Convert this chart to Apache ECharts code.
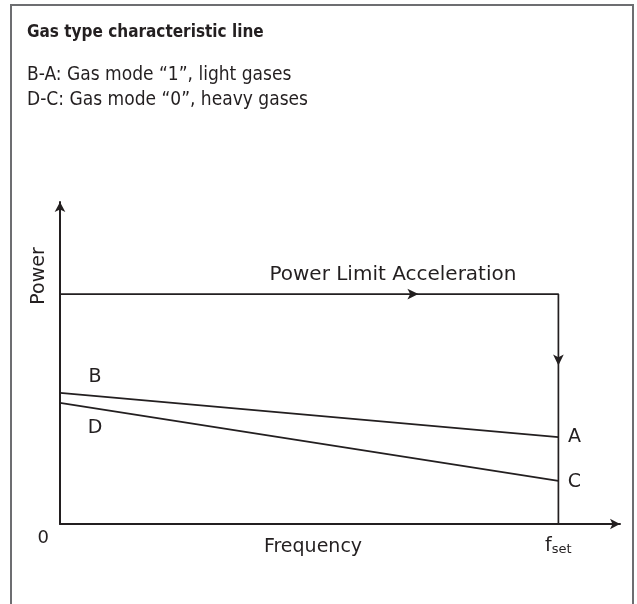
<!DOCTYPE html>
<html>
<head>
<meta charset="UTF-8">
<title>Gas type characteristic line</title>
<script src="https://cdn.jsdelivr.net/npm/echarts@6.0.0/dist/echarts.min.js"></script>
<style>
  html, body { margin: 0; padding: 0; background: #fff; }
  #chart { width: 637px; height: 604px; }
</style>
</head>
<body>
<div id="chart"></div>
<script>
// data (axes run 0..100, arbitrary units)
const fSet = 89;
const powerLimit = 71.4;
const lineBA = [[0, 40.7], [fSet, 27.0]];       // light gases
const lineDC = [[0, 37.6], [fSet, 13.4]];       // heavy gases
const limitPath = [[0, powerLimit], [fSet, powerLimit], [fSet, 0]];
const arrowRight = [[64, powerLimit]];
const arrowDown = [[fSet, 49.2]];

const ink = '#231f20';
const narrow = "'DejaVu Sans Condensed', 'Liberation Sans Narrow', sans-serif";
const sans = "'DejaVu Sans', sans-serif";

const chart = echarts.init(document.getElementById('chart'));
chart.setOption({
  animation: false,
  grid: { left: 60, right: 17, top: 202, bottom: 80 },
  xAxis: {
    type: 'value', min: 0, max: 100,
    splitLine: { show: false },
    axisTick: { show: false },
    axisLine: { show: true, symbol: ['none', 'arrow'], symbolSize: [8, 10], lineStyle: { color: ink, width: 2 } },
    axisLabel: {
      customValues: [fSet], margin: 12,
      formatter: () => 'f{s|set}',
      color: ink, fontFamily: sans, fontSize: 19,
      rich: { s: { fontSize: 13, fontFamily: sans, color: ink, verticalAlign: 'bottom', padding: [7, 0, 0, 0] } }
    }
  },
  yAxis: {
    type: 'value', min: 0, max: 100,
    splitLine: { show: false },
    axisTick: { show: false },
    axisLine: { show: true, symbol: ['none', 'arrow'], symbolSize: [8, 10], lineStyle: { color: ink, width: 2 } },
    axisLabel: {
      customValues: [0], margin: 11, verticalAlign: 'top', padding: [5, 0, 0, 0],
      color: ink, fontFamily: sans, fontSize: 18
    }
  },
  series: [
    {
      type: 'line', data: limitPath, symbol: 'none',
      lineStyle: { color: ink, width: 1.7 }
    },
    {
      type: 'line', data: lineBA, symbol: 'none',
      lineStyle: { color: ink, width: 1.7 }
    },
    {
      type: 'line', data: lineDC, symbol: 'none',
      lineStyle: { color: ink, width: 1.7 }
    },
    {
      type: 'scatter', symbol: 'arrow', symbolRotate: -90, symbolSize: [8, 11],
      itemStyle: { color: ink, opacity: 1 },
      data: arrowRight,
      label: {
        show: true, position: 'inside', offset: [-20, -19],
        formatter: 'Power Limit Acceleration',
        color: ink, fontFamily: sans, fontSize: 20
      }
    },
    {
      type: 'scatter', symbol: 'arrow', symbolRotate: 180, symbolSize: [8, 11],
      itemStyle: { color: ink, opacity: 1 },
      data: arrowDown
    },
    {
      type: 'scatter', symbolSize: 0, silent: true,
      itemStyle: { opacity: 1 },
      data: [
        { value: lineBA[0], label: { formatter: 'B', offset: [35, -16] } },
        { value: lineBA[1], label: { formatter: 'A', offset: [16, 0] } },
        { value: lineDC[0], label: { formatter: 'D', offset: [35, 25] } },
        { value: lineDC[1], label: { formatter: 'C', offset: [16, 1] } }
      ],
      label: { show: true, position: 'inside', color: ink, fontFamily: sans, fontSize: 19 }
    }
  ],
  graphic: [
    {
      type: 'rect', shape: { x: 11, y: 5, width: 622, height: 700 },
      style: { fill: 'none', stroke: '#6d6e71', lineWidth: 2 }
    },
    {
      type: 'text', left: 27, top: 24,
      style: { text: 'Gas type characteristic line', font: 'bold 17px ' + narrow, fill: ink }
    },
    {
      type: 'text', left: 27, top: 63,
      style: { text: 'B-A: Gas mode “1”, light gases\nD-C: Gas mode “0”, heavy gases', font: '19px ' + narrow, fill: ink, lineHeight: 25 }
    },
    {
      type: 'text', x: 39, y: 276, rotation: Math.PI / 2,
      style: { text: 'Power', font: '19px ' + sans, fill: ink, align: 'center', verticalAlign: 'middle' }
    },
    {
      type: 'text', x: 313, y: 547,
      style: { text: 'Frequency', font: '19px ' + sans, fill: ink, align: 'center', verticalAlign: 'middle' }
    }
  ]
});
</script>
</body>
</html>
